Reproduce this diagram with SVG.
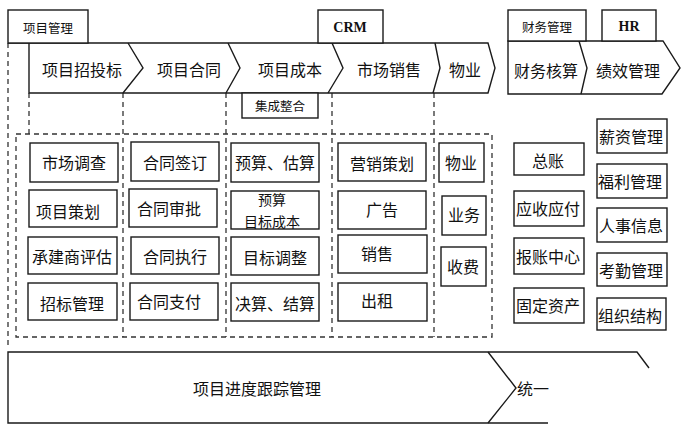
<svg xmlns="http://www.w3.org/2000/svg" width="689" height="429" viewBox="0 0 689 429">
<style>
.ln{fill:none;stroke:#1a1a1a;stroke-width:1.4}
.bx{fill:#fff;stroke:#1a1a1a;stroke-width:1.4}
.ds{fill:none;stroke:#333;stroke-width:1.3;stroke-dasharray:5 4}
text{font-family:"Noto Sans CJK SC","Liberation Sans",sans-serif;fill:#111;text-anchor:middle;dominant-baseline:central}
.t16{font-size:16px}
.t14{font-size:14px}
.t12{font-size:12.5px}
.en{font-family:"Liberation Serif",serif;font-weight:bold;font-size:14px}
</style>
<rect width="689" height="429" fill="#fff"/>
<g id="connectors">
<line class="ds" x1="8" y1="43" x2="8" y2="348"/>
<line class="ds" x1="29" y1="93" x2="29" y2="134"/>
<line class="ds" x1="123" y1="93" x2="123" y2="337"/>
<line class="ds" x1="226" y1="93" x2="226" y2="337"/>
<line class="ds" x1="332" y1="93" x2="332" y2="337"/>
<line class="ds" x1="434" y1="93" x2="434" y2="337"/>
<rect id="group-box" class="ds" x="16" y="134" width="476" height="203"/>
</g>
<g id="band-project">
<path class="ln" d="M8 43 H488 L495 68 L488 93 H29 V43"/>
<path class="ln" d="M128 43 L143 68 L123 93"/>
<path class="ln" d="M228 43 L240 68 L226 93"/>
<path class="ln" d="M332 43 L343 68 L328 93"/>
<path class="ln" d="M435 43 L440 68 L433 93"/>
<text class="t16" x="82" y="69">项目招投标</text>
<text class="t16" x="189" y="69">项目合同</text>
<text class="t16" x="290" y="69">项目成本</text>
<text class="t16" x="389" y="69">市场销售</text>
<text class="t16" x="465" y="69">物业</text>
</g>
<g id="tab-project"><rect class="bx" x="8" y="10" width="80" height="33"/><text class="t12" x="48" y="27">项目管理</text></g>
<g id="tab-crm"><rect class="bx" x="318" y="10" width="65" height="33"/><text class="en" x="350" y="27">CRM</text></g>
<g id="tab-integrate"><rect class="bx" x="242" y="93" width="76" height="25"/><text class="t12" x="280" y="105">集成整合</text></g>
<g id="band-finance-hr">
<path class="ln" d="M508 41 H663 L680 68 L662 94 H508 Z"/>
<path class="ln" d="M579 41 L587 68 L581 94"/>
<text class="t16" x="546" y="70">财务核算</text>
<text class="t16" x="628" y="70">绩效管理</text>
</g>
<g id="tab-finance"><rect class="bx" x="508" y="10" width="78" height="31"/><text class="t12" x="547" y="26">财务管理</text></g>
<g id="tab-hr"><rect class="bx" x="602" y="10" width="54" height="31"/><text class="en" x="629" y="26">HR</text></g>
<g id="n-scdc"><rect class="bx" x="30" y="143" width="88" height="39"/><text class="t16" x="74" y="162">市场调查</text></g>
<g id="n-xmch"><rect class="bx" x="29" y="190" width="88" height="37"/><text class="t16" x="68" y="211">项目策划</text></g>
<g id="n-cjspg"><rect class="bx" x="28" y="237" width="89" height="37"/><text class="t16" x="72" y="256">承建商评估</text></g>
<g id="n-zbgl"><rect class="bx" x="28" y="283" width="89" height="37"/><text class="t16" x="72" y="303">招标管理</text></g>
<g id="n-htqd"><rect class="bx" x="131" y="142" width="88" height="39"/><text class="t16" x="175" y="162">合同签订</text></g>
<g id="n-htsp"><rect class="bx" x="129" y="189" width="88" height="38"/><text class="t16" x="169" y="208">合同审批</text></g>
<g id="n-htzx"><rect class="bx" x="131" y="237" width="88" height="37"/><text class="t16" x="175" y="256">合同执行</text></g>
<g id="n-htzf"><rect class="bx" x="130" y="283" width="88" height="37"/><text class="t16" x="169" y="301">合同支付</text></g>
<g id="n-ysgs"><rect class="bx" x="231" y="143" width="88" height="39"/><text class="t16" x="275" y="162">预算、估算</text></g>
<g id="n-ysmb"><rect class="bx" x="231" y="191" width="88" height="38"/><text class="t14" x="272" y="199">预算</text><text class="t14" x="272" y="221">目标成本</text></g>
<g id="n-mbtz"><rect class="bx" x="231" y="237" width="88" height="38"/><text class="t16" x="275" y="257">目标调整</text></g>
<g id="n-jsjs"><rect class="bx" x="231" y="283" width="88" height="38"/><text class="t16" x="275" y="303">决算、结算</text></g>
<g id="n-yxch"><rect class="bx" x="338" y="143" width="88" height="38"/><text class="t16" x="382" y="163">营销策划</text></g>
<g id="n-gg"><rect class="bx" x="338" y="191" width="88" height="38"/><text class="t16" x="382" y="209">广告</text></g>
<g id="n-xs"><rect class="bx" x="338" y="235" width="89" height="38"/><text class="t16" x="377" y="253">销售</text></g>
<g id="n-cz"><rect class="bx" x="338" y="283" width="89" height="38"/><text class="t16" x="377" y="300">出租</text></g>
<g id="n-wy"><rect class="bx" x="439" y="143" width="45" height="39"/><text class="t16" x="461" y="162">物业</text></g>
<g id="n-yw"><rect class="bx" x="442" y="196" width="44" height="39"/><text class="t16" x="464" y="214">业务</text></g>
<g id="n-sf"><rect class="bx" x="441" y="247" width="45" height="39"/><text class="t16" x="463" y="266">收费</text></g>
<g id="n-zz"><rect class="bx" x="514" y="143" width="70" height="32"/><text class="t16" x="548" y="160">总账</text></g>
<g id="n-ysyf"><rect class="bx" x="514" y="191" width="70" height="35"/><text class="t16" x="548" y="208">应收应付</text></g>
<g id="n-bzzx"><rect class="bx" x="514" y="238" width="70" height="36"/><text class="t16" x="548" y="256">报账中心</text></g>
<g id="n-gdzc"><rect class="bx" x="514" y="288" width="70" height="35"/><text class="t16" x="548" y="305">固定资产</text></g>
<g id="n-xzgl"><rect class="bx" x="597" y="119" width="70" height="34"/><text class="t16" x="631" y="136">薪资管理</text></g>
<g id="n-flgl"><rect class="bx" x="597" y="164" width="70" height="34"/><text class="t16" x="630" y="181">福利管理</text></g>
<g id="n-rsxx"><rect class="bx" x="597" y="208" width="70" height="34"/><text class="t16" x="631" y="225">人事信息</text></g>
<g id="n-kqgl"><rect class="bx" x="597" y="253" width="70" height="33"/><text class="t16" x="631" y="270">考勤管理</text></g>
<g id="n-zzjg"><rect class="bx" x="597" y="298" width="69" height="32"/><text class="t16" x="630" y="315">组织结构</text></g>
<g id="band-bottom">
<path class="ln" d="M548 423 H8 V352 H637 L649 368"/>
<path class="ln" d="M488 352 L516 388 L488 423"/>
<text class="t16" x="257" y="388">项目进度跟踪管理</text>
<text class="t16" x="533" y="388">统一</text>
</g>
</svg>
